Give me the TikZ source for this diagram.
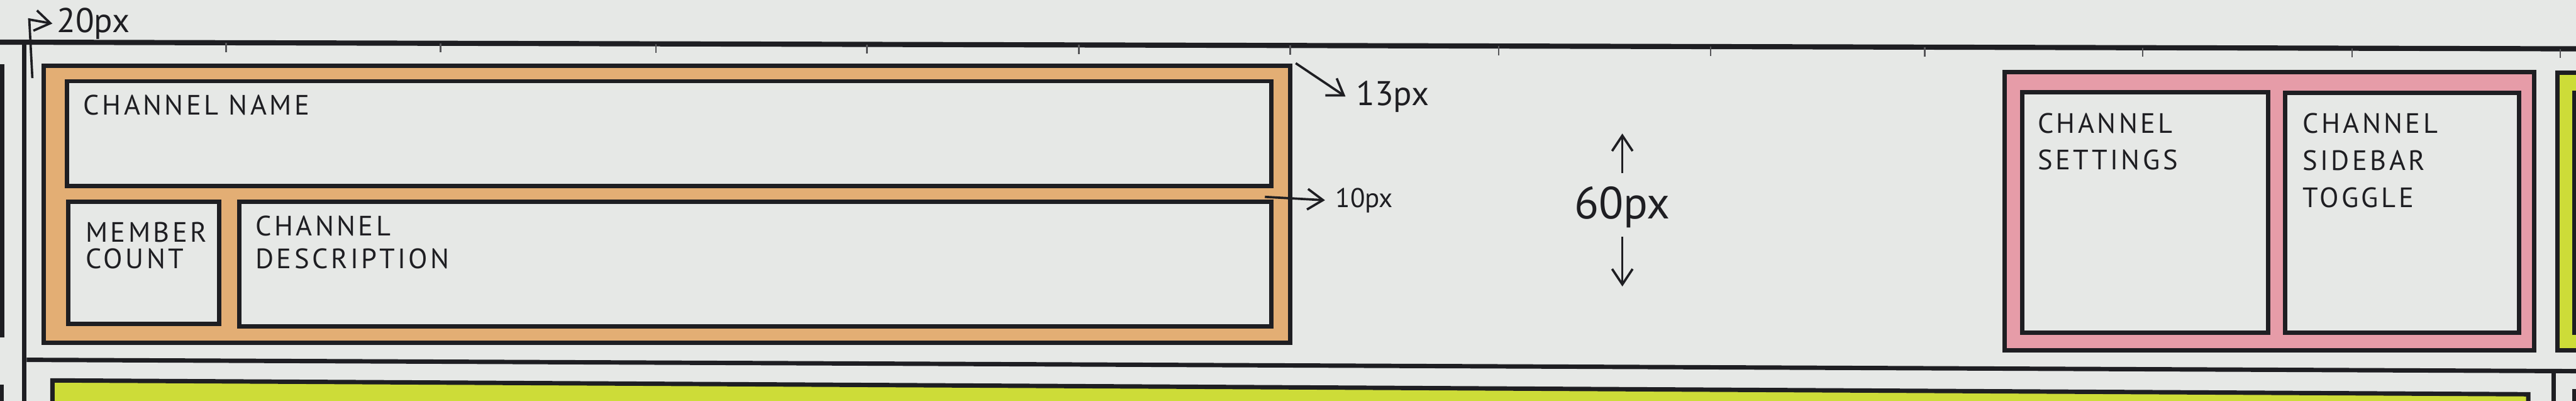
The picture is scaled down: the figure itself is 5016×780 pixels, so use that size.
\documentclass[tikz,border=0pt]{standalone}
\usepackage{fontspec}
\setmainfont{PT Sans}
\newfontfamily\hand[LetterSpace=10]{PT Sans}
\usetikzlibrary{arrows.meta,positioning}
\definecolor{paper}{HTML}{E6E8E6}
\definecolor{ink}{HTML}{1E1E22}
\definecolor{hdr}{HTML}{E3AE74}
\definecolor{act}{HTML}{E69CA8}
\definecolor{msg}{HTML}{CDDC38}

\begin{document}
\begin{tikzpicture}[
  x=0.1mm, y=-0.1mm,
  >={Straight Barb[length=3mm, width=4mm]},
  ln/.style={draw=ink, line width=0.85mm},
  box/.style={ln, fill=paper},
  tickmark/.style={draw=ink!75, line width=0.3mm},
  dim/.style={->, draw=ink, line width=0.45mm},
  lbl/.style={font=\hand\fontsize{15.5}{#1}\selectfont, text=ink, align=left, anchor=north west, inner sep=0pt},
  lbl/.default=15,
  dimlbl/.style={font=\fontsize{#1}{#1}\selectfont, text=ink, inner sep=0pt, anchor=base west}
]
\fill[paper] (0,0) rectangle (5016,780);
\useasboundingbox (0,0) rectangle (5016,780);

% frame lines
\draw[ln, line width=1mm] (0,82) -- (5016,95);
\draw[ln] (47,82) -- (47,780);
\draw[ln] (4,125) -- (4,657);
\draw[ln] (3,748) -- (3,780);
\draw[ln] (52,700) -- (5016,722);
\draw[ln] (4972,722) -- (4972,780);
\draw[ln] (5013,757) -- (5013,780);
\foreach \tx in {440,858,1277,1688,2101,2512,2918,3331,3748,4172,4580,4985}
  \draw[tickmark] (\tx,{82+\tx*0.0026}) -- ++(0,18);

% channel header
\draw[ln, fill=hdr] (85,128) rectangle (2512,667);
\draw[box] (130,158) rectangle (2476,362);
\draw[box] (133,392) rectangle (427,630);
\draw[box] (466,392) rectangle (2476,635);
\node[lbl] (tname) at (162,184) {CHANNEL NAME};
\node[lbl=14.8] (tmember) at (166,431) {MEMBER\\COUNT};
\node[lbl=18] (tdesc) at (497,419) {CHANNEL\\DESCRIPTION};

% channel actions
\draw[ln, fill=act] (3903,140) rectangle (4935,682);
\draw[box] (3938,179) rectangle (4417,647);
\draw[box] (4450,181) rectangle (4905,647);
\node[lbl=20] (tsettings) at (3967,220) {CHANNEL\\SETTINGS};
\node[lbl=20.5] (ttoggle) at (4483,220) {CHANNEL\\SIDEBAR\\TOGGLE};

% neighbours
\fill[msg] (4980,142) rectangle (5040,682);
\draw[ln] (5040,142) -- (4980,142) -- (4980,682) -- (5040,682);
\draw[ln] (5040,180) -- (5013,180) -- (5013,647) -- (5040,647);
\fill[msg] (102,740) -- (4923,767) -- (4923,800) -- (102,800) -- cycle;
\draw[ln] (102,790) -- (102,740) -- (4923,767) -- (4923,790);

% measurements
\node[dimlbl=19] (t20) at (110,63) {20px};
\draw[dim] (63,152) -- (57,38) -- ([xshift=-0.8mm]t20.west);
\node[dimlbl=19] (t13) at (2640,205) {13px};
\draw[dim] (2523,123) -- ([xshift=-2mm]t13.west);
\node[dimlbl=15] (t10) at (2600,403) {10px};
\draw[dim] (2463,383) -- ([xshift=-2mm]t10.west);
\node[dimlbl=25, anchor=base] (t60) at (3159,425) {60px};
\draw[dim] ([yshift=2.5mm]t60.north) -- ++(0,-77);
\draw[dim] ([yshift=-1.7mm]t60.south) -- ++(0,97);
\end{tikzpicture}
\end{document}
